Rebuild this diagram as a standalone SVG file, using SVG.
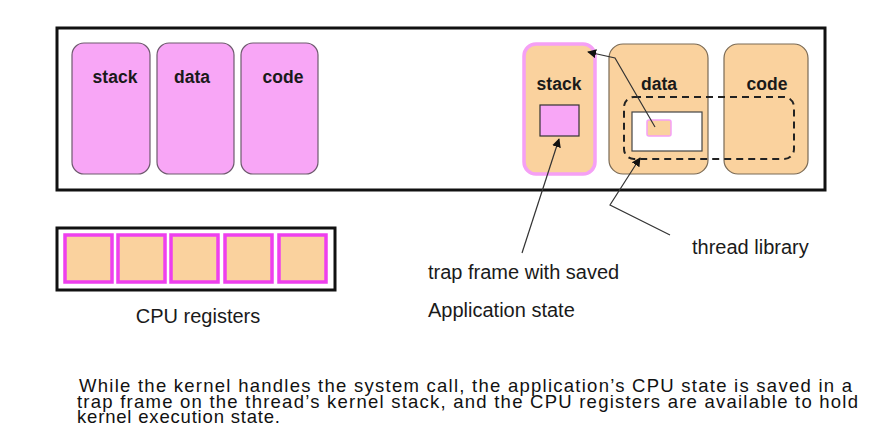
<svg xmlns="http://www.w3.org/2000/svg" width="877" height="441" viewBox="0 0 877 441">
<defs>
<style>
.seg{fill:#F8A6F6;stroke:#6e5a6e;stroke-width:1.2}
.pseg{fill:#FAD29E;stroke:#7a6a55;stroke-width:1.2}
.lbl{font-family:"Liberation Sans",Arial,sans-serif;font-weight:bold;font-size:17.5px;fill:#1a1a1a;text-anchor:middle}
.txt{font-family:"Liberation Sans",Arial,sans-serif;font-size:20px;fill:#1a1a1a}
.para{font-family:"Liberation Sans",Arial,sans-serif;font-size:18.5px;fill:#111}
.reg{fill:#FAD29E;stroke:#EE3FEE;stroke-width:3.5}
.conn{fill:none;stroke:#333;stroke-width:1.2}
</style>
<marker id="ah" viewBox="0 0 10 10" refX="9" refY="5" markerWidth="9" markerHeight="9" markerUnits="userSpaceOnUse" orient="auto">
<path d="M0,0 L10,5 L0,10 z" fill="#111"/>
</marker>
</defs>
<rect width="877" height="441" fill="#fff"/>
<g id="memory">
<rect x="57" y="28" width="768" height="162" fill="#fff" stroke="#111" stroke-width="3"/>
</g>
<g id="kstack"><rect class="seg" x="72" y="43" width="78" height="131" rx="12"/><text class="lbl" x="115" y="83">stack</text></g>
<g id="kdata"><rect class="seg" x="157" y="43" width="77" height="131" rx="12"/><text class="lbl" x="192" y="83">data</text></g>
<g id="kcode"><rect class="seg" x="241" y="43" width="77" height="131" rx="12"/><text class="lbl" x="283" y="83">code</text></g>
<g id="astack">
<rect x="524" y="44" width="71" height="130" rx="12" fill="#FAD29E" stroke="#F5A0F5" stroke-width="3.5"/>
<text class="lbl" x="559" y="90">stack</text>
<rect x="540" y="105" width="39" height="31" fill="#F8A6F6" stroke="#333" stroke-width="1.2"/>
</g>
<g id="adata">
<rect class="pseg" x="609" y="44" width="99" height="130" rx="14"/>
<text class="lbl" x="659" y="90">data</text>
</g>
<g id="acode">
<rect class="pseg" x="724" y="44" width="84" height="130" rx="14"/>
<text class="lbl" x="767" y="90">code</text>
</g>
<g id="threadlib">
<rect x="624" y="97" width="170" height="62" rx="10" fill="none" stroke="#222" stroke-width="2" stroke-dasharray="7,5"/>
<rect x="632" y="112" width="70" height="39" fill="#fff" stroke="#444" stroke-width="1.2"/>
<rect x="647" y="120" width="24" height="16" rx="2" fill="#FAD29E" stroke="#F5A0F5" stroke-width="1.5"/>
</g>
<g id="cpu">
<rect x="57" y="228" width="278" height="62" fill="#fff" stroke="#111" stroke-width="3"/>
<rect class="reg" x="65" y="235" width="47" height="47"/>
<rect class="reg" x="118" y="235" width="47" height="47"/>
<rect class="reg" x="171" y="235" width="47" height="47"/>
<rect class="reg" x="225" y="235" width="47" height="47"/>
<rect class="reg" x="279" y="235" width="47" height="47"/>
<text class="txt" x="198" y="323" text-anchor="middle">CPU registers</text>
</g>
<g id="connectors">
<polyline class="conn" points="655,127 615,58 588,52" marker-end="url(#ah)"/>
<line class="conn" x1="522" y1="253" x2="559" y2="139" marker-end="url(#ah)"/>
<polyline class="conn" points="670,235 610,205 640,158" marker-end="url(#ah)"/>
</g>
<g id="labels">
<text class="txt" x="428" y="279">trap frame with saved</text>
<text class="txt" x="428" y="317">Application state</text>
<text class="txt" x="692" y="254">thread library</text>
</g>
<g id="caption">
<text class="para" x="79" y="392" textLength="773" lengthAdjust="spacing">While the kernel handles the system call, the application’s CPU state is saved in a</text>
<text class="para" x="77" y="407.5" textLength="781" lengthAdjust="spacing">trap frame on the thread’s kernel stack, and the CPU registers are available to hold</text>
<text class="para" x="77" y="423" textLength="203" lengthAdjust="spacing">kernel execution state.</text>
</g>
</svg>
